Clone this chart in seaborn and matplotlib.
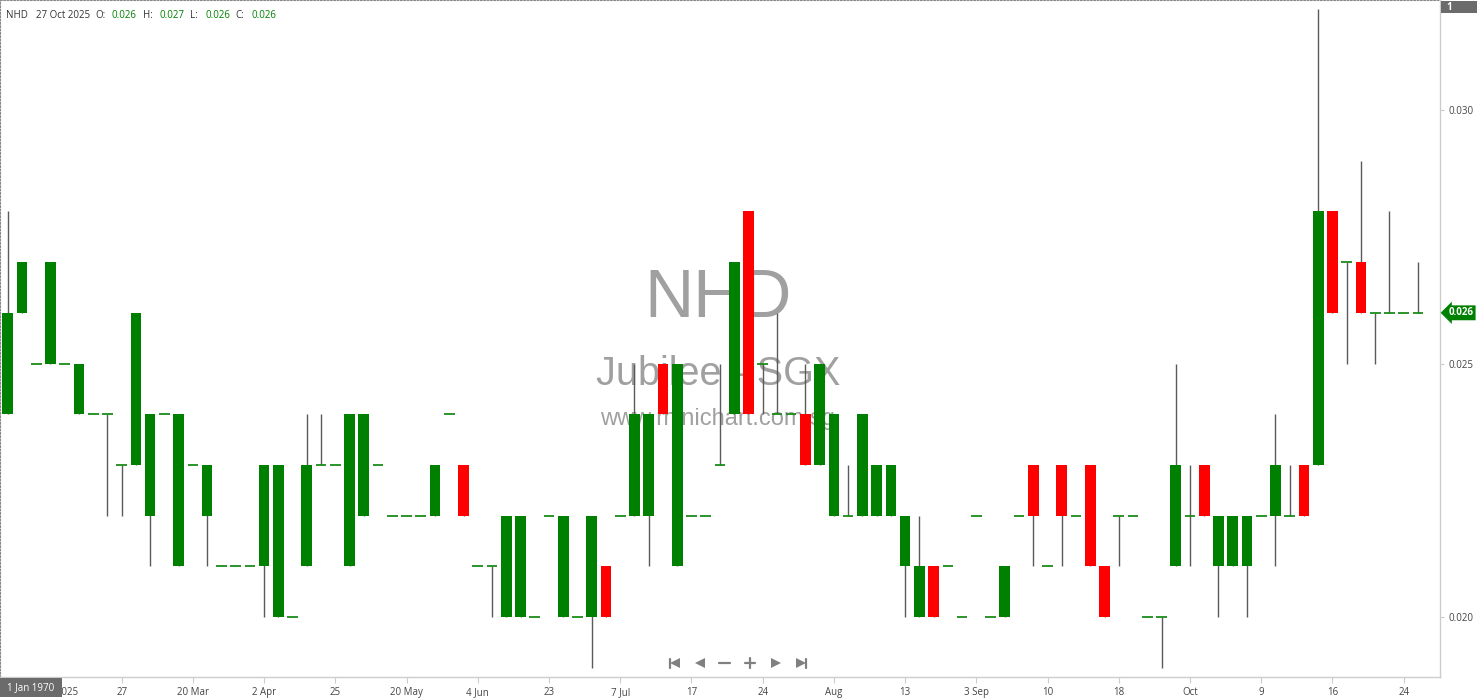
import numpy as np
import pandas as pd
import matplotlib
matplotlib.use('Agg')
import matplotlib.pyplot as plt
from matplotlib.lines import Line2D
from matplotlib.patches import Rectangle
import seaborn as sns

# daily OHLC for NHD (Jubilee - SGX), one entry per traded day
open_ = [0.024, 0.026, 0.025, 0.025, 0.025, 0.024, 0.024, 0.024, 0.023, 0.023,
         0.022, 0.024, 0.021, 0.023, 0.022, 0.021, 0.021, 0.021, 0.021, 0.020,
         0.020, 0.021, 0.023, 0.023, 0.021, 0.022, 0.023, 0.022, 0.022, 0.022,
         0.022, 0.024, 0.023, 0.021, 0.021, 0.020, 0.020, 0.020, 0.022, 0.020,
         0.020, 0.020, 0.021, 0.022, 0.022, 0.022, 0.025, 0.021, 0.022, 0.022,
         0.023, 0.024, 0.028, 0.025, 0.024, 0.024, 0.024, 0.023, 0.022, 0.022,
         0.022, 0.022, 0.022, 0.021, 0.020, 0.021, 0.021, 0.020, 0.022, 0.020,
         0.020, 0.022, 0.023, 0.021, 0.023, 0.022, 0.023, 0.021, 0.022, 0.022,
         0.020, 0.020, 0.021, 0.022, 0.023, 0.021, 0.021, 0.021, 0.022, 0.022,
         0.022, 0.023, 0.023, 0.028, 0.027, 0.027, 0.026, 0.026, 0.026, 0.026]
high = [0.028, 0.027, 0.025, 0.027, 0.025, 0.025, 0.024, 0.024, 0.023, 0.026,
        0.024, 0.024, 0.024, 0.023, 0.023, 0.021, 0.021, 0.021, 0.023, 0.023,
        0.020, 0.024, 0.024, 0.023, 0.024, 0.024, 0.023, 0.022, 0.022, 0.022,
        0.023, 0.024, 0.023, 0.021, 0.021, 0.022, 0.022, 0.020, 0.022, 0.022,
        0.020, 0.022, 0.021, 0.022, 0.025, 0.024, 0.025, 0.025, 0.022, 0.022,
        0.025, 0.027, 0.028, 0.025, 0.026, 0.024, 0.025, 0.025, 0.024, 0.023,
        0.024, 0.023, 0.023, 0.022, 0.022, 0.021, 0.021, 0.020, 0.022, 0.020,
        0.021, 0.022, 0.023, 0.021, 0.023, 0.022, 0.023, 0.021, 0.022, 0.022,
        0.020, 0.020, 0.025, 0.023, 0.023, 0.022, 0.022, 0.022, 0.022, 0.024,
        0.023, 0.023, 0.032, 0.028, 0.027, 0.029, 0.026, 0.028, 0.026, 0.027]
low = [0.024, 0.026, 0.025, 0.025, 0.025, 0.024, 0.024, 0.022, 0.022, 0.023,
       0.021, 0.024, 0.021, 0.023, 0.021, 0.021, 0.021, 0.021, 0.020, 0.020,
       0.020, 0.021, 0.023, 0.023, 0.021, 0.022, 0.023, 0.022, 0.022, 0.022,
       0.022, 0.024, 0.022, 0.021, 0.020, 0.020, 0.020, 0.020, 0.022, 0.020,
       0.020, 0.019, 0.020, 0.022, 0.022, 0.021, 0.024, 0.021, 0.022, 0.022,
       0.023, 0.024, 0.024, 0.024, 0.024, 0.024, 0.023, 0.023, 0.022, 0.022,
       0.022, 0.022, 0.022, 0.020, 0.020, 0.020, 0.021, 0.020, 0.022, 0.020,
       0.020, 0.022, 0.021, 0.021, 0.021, 0.022, 0.021, 0.020, 0.021, 0.022,
       0.020, 0.019, 0.021, 0.021, 0.022, 0.020, 0.021, 0.020, 0.022, 0.021,
       0.022, 0.022, 0.023, 0.026, 0.025, 0.026, 0.025, 0.026, 0.026, 0.026]
close = [0.026, 0.027, 0.025, 0.027, 0.025, 0.025, 0.024, 0.024, 0.023, 0.026,
         0.024, 0.024, 0.024, 0.023, 0.023, 0.021, 0.021, 0.021, 0.023, 0.023,
         0.020, 0.023, 0.023, 0.023, 0.024, 0.024, 0.023, 0.022, 0.022, 0.022,
         0.023, 0.024, 0.022, 0.021, 0.021, 0.022, 0.022, 0.020, 0.022, 0.022,
         0.020, 0.022, 0.020, 0.022, 0.024, 0.024, 0.024, 0.025, 0.022, 0.022,
         0.023, 0.027, 0.024, 0.025, 0.024, 0.024, 0.023, 0.025, 0.024, 0.022,
         0.024, 0.023, 0.023, 0.022, 0.021, 0.020, 0.021, 0.020, 0.022, 0.020,
         0.021, 0.022, 0.022, 0.021, 0.022, 0.022, 0.021, 0.020, 0.022, 0.022,
         0.020, 0.020, 0.023, 0.022, 0.022, 0.022, 0.022, 0.022, 0.022, 0.023,
         0.022, 0.022, 0.028, 0.026, 0.027, 0.026, 0.026, 0.026, 0.026, 0.026]

tick_days = [3, 8, 13, 18, 23, 28, 33, 38, 43, 48, 53, 58, 63, 68, 73, 78, 83, 88, 93, 98]
tick_labels = ['17 Feb 2025', '27', '20 Mar', '2 Apr', '25', '20 May', '4 Jun', '23', '7 Jul',
               '17', '24', 'Aug', '13', '3 Sep', '10', '18', 'Oct', '9', '16', '24']
price_ticks = [0.020, 0.025, 0.030]

symbol = 'NHD'
company = 'Jubilee - SGX'
last_date = '27 Oct 2025'

df = pd.DataFrame({'open': open_, 'high': high, 'low': low, 'close': close})
df['day'] = np.arange(len(df))
df['up'] = df['close'] >= df['open']

GREEN = '#008000'
RED = '#ff0000'
W, H = 1480, 699

sns.set_theme(style='white')
plt.rcParams['font.family'] = ['Open Sans', 'DejaVu Sans']

fig = plt.figure(figsize=(W / 100, H / 100), dpi=100)
ax = fig.add_axes([0, 22 / H, 1440 / W, 677 / H])

# watermark behind the candles
wm = dict(transform=ax.transAxes, ha='center', va='baseline', color='#a0a0a0',
          family='Liberation Sans', zorder=0)
ax.text(0.4985, 0.5318, symbol, fontsize=49, **wm)
ax.text(0.4985, 0.4313, company, fontsize=28.5, **wm)
ax.text(0.4985, 0.3722, 'www.minichart.com.sg', fontsize=17, **wm)

# wicks
wick = df[df['high'] > df['low']]
ax.vlines(wick['day'], wick['low'], wick['high'], color='#5a5a5a', lw=1, zorder=2)

# bodies
body = df[df['close'] != df['open']]
ax.bar(body['day'], (body['close'] - body['open']).abs(),
       bottom=body[['open', 'close']].min(axis=1), width=0.75,
       color=np.where(body['up'], GREEN, RED), linewidth=0, zorder=3)

# flat days drawn as a short line
flat = df[df['close'] == df['open']]
ax.hlines(flat['close'], flat['day'] - 0.375, flat['day'] + 0.375,
          color='#1a8c1a', lw=1.3, zorder=3)

ax.set_xlim(-0.5405, 100.55)
ax.set_ylim(0.018817, 0.032170)

ax.set_xticks(tick_days)
ax.set_xticklabels(tick_labels)
ax.yaxis.tick_right()
ax.set_yticks(price_ticks)
ax.set_yticklabels([f'{p:.3f}' for p in price_ticks])
ax.tick_params(axis='x', length=4, width=0.8, color='#cccccc', labelsize=7,
               labelcolor='#444444', pad=3, bottom=True)
ax.tick_params(axis='y', length=3, width=0.8, color='#cccccc', labelsize=7,
               labelcolor='#444444', pad=3, right=True)
ax.grid(False)

for side in ['top', 'left']:
    ax.spines[side].set_linestyle((0, (1.5, 1.5)))
    ax.spines[side].set_color('#888888')
    ax.spines[side].set_linewidth(0.8)
for side in ['right', 'bottom']:
    ax.spines[side].set_color('#cccccc')
    ax.spines[side].set_linewidth(1)

# last price tag on the axis
ax.text(1.006, close[-1], f'{close[-1]:.3f}', transform=ax.get_yaxis_transform(),
        ha='left', va='center', color='white', fontsize=7, fontweight='bold',
        bbox=dict(boxstyle='larrow,pad=0.2', fc=GREEN, ec='none'), clip_on=False)

# header line with last bar
header = [(6, symbol, '#333333'), (36, last_date, '#333333'),
          (95, 'O:', '#333333'), (112, f'{open_[-1]:.3f}', GREEN),
          (143, 'H:', '#333333'), (160, f'{high[-1]:.3f}', GREEN),
          (190, 'L:', '#333333'), (205, f'{low[-1]:.3f}', GREEN),
          (235, 'C:', '#333333'), (252, f'{close[-1]:.3f}', GREEN)]
for px, s, c in header:
    fig.text(px / W, 1 - 15 / H, s, color=c, fontsize=7, ha='left', va='center')

# small boxes: pane number and crosshair date
fig.add_artist(Rectangle((1441 / W, 1 - 13 / H), 36 / W, 12 / H, transform=fig.transFigure,
                         fc='#6b6b6b', ec='none'))
fig.text(1446 / W, 1 - 7 / H, '1', color='white', fontsize=7, fontweight='bold',
         ha='left', va='center')
fig.add_artist(Rectangle((0, 2 / H), 62 / W, 19 / H, transform=fig.transFigure,
                         fc='#6b6b6b', ec='none', zorder=5))
fig.text(31 / W, 11 / H, '1 Jan 1970', color='white', fontsize=7, ha='center',
         va='center', zorder=6)

# navigation buttons
ny = 1 - 663 / H
nav = dict(color='#808080', transform=fig.transFigure)
fig.add_artist(Line2D([669.5 / W] * 2, [ny - 4.5 / H, ny + 4.5 / H], lw=1.6, **nav))
fig.add_artist(Line2D([675 / W], [ny], marker='<', ms=7, mew=0, ls='none', **nav))
fig.add_artist(Line2D([699.5 / W], [ny], marker='<', ms=7, mew=0, ls='none', **nav))
fig.add_artist(Line2D([719 / W, 730 / W], [ny, ny], lw=1.6, **nav))
fig.add_artist(Line2D([745 / W, 755 / W], [ny, ny], lw=1.6, **nav))
fig.add_artist(Line2D([750 / W] * 2, [ny - 5 / H, ny + 5 / H], lw=1.6, **nav))
fig.add_artist(Line2D([776 / W], [ny], marker='>', ms=7, mew=0, ls='none', **nav))
fig.add_artist(Line2D([801 / W], [ny], marker='>', ms=7, mew=0, ls='none', **nav))
fig.add_artist(Line2D([806.5 / W] * 2, [ny - 4.5 / H, ny + 4.5 / H], lw=1.6, **nav))

fig.savefig('out.png', dpi=100, facecolor='white')
